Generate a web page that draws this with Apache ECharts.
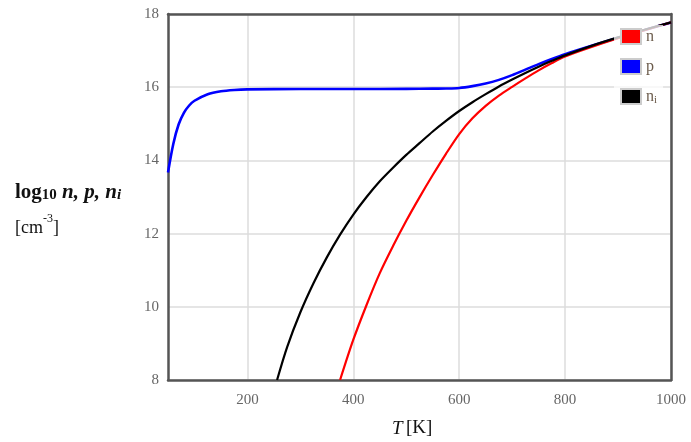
<!DOCTYPE html>
<html>
<head>
<meta charset="utf-8">
<script src="https://cdn.jsdelivr.net/npm/echarts@6/dist/echarts.min.js"></script>
<style>
    html, body { margin: 0; padding: 0; background: #fff; }
    #chart { width: 691px; height: 442px; }
</style>
</head>
<body>
<div id="chart"></div>
<script>
    // p (blue)
    let pT = [50, 60, 70, 80, 90, 100, 125, 150, 175, 200, 300, 400, 500, 550, 575, 600, 625, 650, 675, 700, 725, 750, 775, 800, 850, 900, 950, 1000];
    let pVal = [13.67, 14.45, 14.98, 15.3, 15.5, 15.63, 15.81, 15.89, 15.925, 15.94, 15.95, 15.95, 15.955, 15.96, 15.965, 15.98, 16.03, 16.1, 16.2, 16.33, 16.48, 16.63, 16.77, 16.9, 17.13, 17.35, 17.56, 17.77];
    // n (red)
    let nT = [375, 400, 425, 450, 475, 500, 525, 550, 575, 600, 625, 650, 675, 700, 725, 750, 775, 800, 850, 900, 950, 1000];
    let nVal = [8.0, 9.1, 10.05, 10.92, 11.66, 12.35, 12.99, 13.6, 14.18, 14.72, 15.15, 15.49, 15.77, 16.01, 16.24, 16.46, 16.66, 16.84, 17.1, 17.34, 17.56, 17.77];
    // ni (black)
    let niT = [256, 275, 300, 325, 350, 375, 400, 425, 450, 475, 500, 525, 550, 575, 600, 625, 650, 675, 700, 725, 750, 775, 800, 850, 900, 950, 1000];
    let niVal = [8.0, 8.9, 9.85, 10.65, 11.35, 11.97, 12.52, 13.0, 13.43, 13.8, 14.15, 14.47, 14.79, 15.08, 15.35, 15.59, 15.81, 16.02, 16.21, 16.39, 16.56, 16.72, 16.87, 17.13, 17.36, 17.57, 17.77];

    let xTicks = [200, 400, 600, 800, 1000];

    function pairs(t, v) {
        let out = [];
        for (let i = 0; i < t.length; i++) {
            out.push([t[i], v[i]]);
        }
        return out;
    }

    let font = '"Liberation Serif", "DejaVu Serif", serif';
    let frame = { show: true, lineStyle: { color: '#555', width: 2.5 } };
    let chart = echarts.init(document.getElementById('chart'));
    let option = {
        animation: false,
        grid: { left: 168, right: 20, top: 14, bottom: 62 },
        legend: {
            data: ['n', 'p', 'ni'],
            orient: 'vertical',
            left: 614, top: 25,
            padding: [3, 6, 6, 6],
            itemWidth: 20, itemHeight: 15, itemGap: 13,
            icon: 'rect',
            backgroundColor: 'rgba(255,255,255,0.75)',
            itemStyle: { borderColor: '#ccc', borderWidth: 2 },
            textStyle: {
                fontFamily: font, fontSize: 16, color: '#6b5b4b',
                rich: {
                    a: { fontFamily: font, fontSize: 16, color: '#6b5b4b' },
                    s: { fontFamily: font, fontSize: 11, color: '#6b5b4b', verticalAlign: 'bottom', padding: [8, 0, 0, 0] }
                }
            },
            formatter: function (name) {
                if (name === 'ni') return '{a|n}{s|i}';
                return '{a|' + name + '}';
            }
        },
        xAxis: [
            {
                type: 'value', min: 50, max: 1000,
                axisLine: frame,
                axisTick: { show: false, customValues: xTicks },
                axisLabel: {
                    customValues: xTicks, margin: 13, color: '#666', fontFamily: font, fontSize: 15,
                    formatter: function (v) { return String(v); }
                },
                splitLine: { lineStyle: { color: '#ddd', width: 1.5 } }
            },
            {
                type: 'value', min: 50, max: 1000, position: 'top',
                axisLine: frame, axisTick: { show: false }, axisLabel: { show: false }, splitLine: { show: false }
            }
        ],
        yAxis: [
            {
                type: 'value', min: 8, max: 18, interval: 2,
                axisLine: frame,
                axisTick: { show: false },
                axisLabel: { margin: 9, color: '#666', fontFamily: font, fontSize: 15 },
                splitLine: { lineStyle: { color: '#ddd', width: 1.5 } }
            },
            {
                type: 'value', min: 8, max: 18, position: 'right',
                axisLine: frame, axisTick: { show: false }, axisLabel: { show: false }, splitLine: { show: false }
            }
        ],
        graphic: [
            {
                type: 'text', left: 15, top: 182,
                style: {
                    text: '{b|log}{s|10}{i| n, p, n}{si|i}',
                    rich: {
                        b: { fontFamily: font, fontSize: 21, fontWeight: 'bold', fill: '#111', verticalAlign: 'bottom' },
                        s: { fontFamily: font, fontSize: 15, fontWeight: 'bold', fill: '#111', verticalAlign: 'bottom', padding: [10, 0, 0, 0] },
                        i: { fontFamily: font, fontSize: 21, fontWeight: 'bold', fontStyle: 'italic', fill: '#111', verticalAlign: 'bottom' },
                        si: { fontFamily: font, fontSize: 15, fontWeight: 'bold', fontStyle: 'italic', fill: '#111', verticalAlign: 'bottom', padding: [10, 0, 0, 0] }
                    }
                }
            },
            {
                type: 'text', left: 15, top: 213,
                style: {
                    text: '{c|[cm}{u|-3}{c|]}',
                    rich: {
                        c: { fontFamily: font, fontSize: 18, fill: '#111', verticalAlign: 'bottom', padding: [6, 0, 0, 0] },
                        u: { fontFamily: font, fontSize: 12, fill: '#111', verticalAlign: 'top' }
                    }
                }
            },
            {
                type: 'text', left: 392, top: 419,
                style: {
                    text: '{t|T} {k|[K]}',
                    rich: {
                        t: { fontFamily: font, fontSize: 19, fontStyle: 'italic', fill: '#111' },
                        k: { fontFamily: font, fontSize: 19, fill: '#111' }
                    }
                }
            }
        ],
        series: [
            {
                name: 'p', type: 'line', data: pairs(pT, pVal),
                showSymbol: false, smooth: 0.3,
                itemStyle: { color: '#0000ff' },
                lineStyle: { color: '#0000ff', width: 2.6 }
            },
            {
                name: 'n', type: 'line', data: pairs(nT, nVal),
                showSymbol: false, smooth: 0.3,
                itemStyle: { color: '#ff0000' },
                lineStyle: { color: '#ff0000', width: 2.2 }
            },
            {
                name: 'ni', type: 'line', data: pairs(niT, niVal),
                showSymbol: false, smooth: 0.3,
                itemStyle: { color: '#000000' },
                lineStyle: { color: '#000000', width: 2.2 }
            }
        ]
    };
    chart.setOption(option);
</script>
</body>
</html>
